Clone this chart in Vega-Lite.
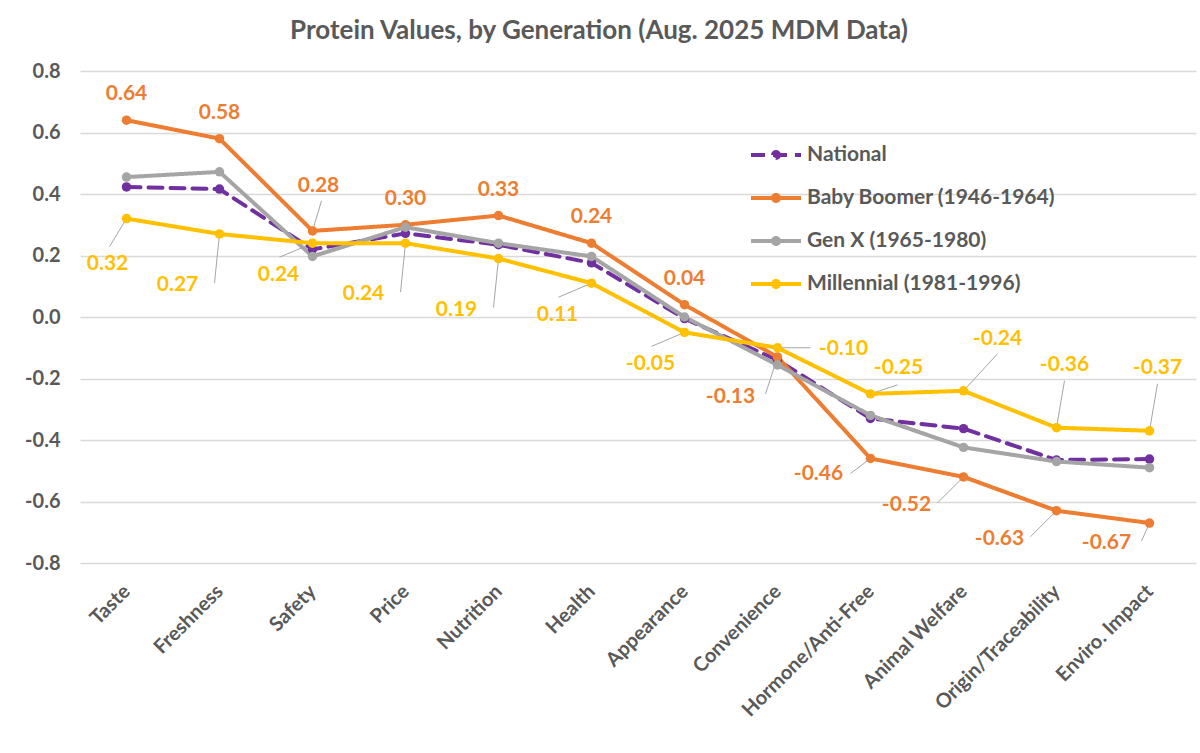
{
  "$schema": "https://vega.github.io/schema/vega-lite/v6.json",
  "width": 1116,
  "height": 492,
  "autosize": {"type": "none"},
  "padding": {"left": 80, "top": 71, "right": 4, "bottom": 190},
  "background": "white",
  "title": {
    "text": "Protein Values, by Generation (Aug. 2025 MDM Data)",
    "font": "Lato", "fontSize": 26, "fontWeight": "bold", "color": "#595959",
    "frame": "group", "anchor": "middle", "dx": -39, "offset": 28, "dy": 32, "baseline": "alphabetic"
  },
  "config": {
    "view": {"stroke": null},
    "locale": {"number": {"decimal": ".", "thousands": ",", "grouping": [3], "currency": ["$", ""], "minus": "-"}},
    "text": {"font": "Lato", "fontSize": 21, "fontWeight": "bold"}
  },
  "data": {
    "values": [
      {"cat": "Taste", "series": "National", "value": 0.423},
      {"cat": "Freshness", "series": "National", "value": 0.416},
      {"cat": "Safety", "series": "National", "value": 0.22},
      {"cat": "Price", "series": "National", "value": 0.272},
      {"cat": "Nutrition", "series": "National", "value": 0.235},
      {"cat": "Health", "series": "National", "value": 0.176},
      {"cat": "Appearance", "series": "National", "value": -0.005},
      {"cat": "Convenience", "series": "National", "value": -0.14},
      {"cat": "Hormone/Anti-Free", "series": "National", "value": -0.33},
      {"cat": "Animal Welfare", "series": "National", "value": -0.363},
      {"cat": "Origin/Traceability", "series": "National", "value": -0.465},
      {"cat": "Enviro. Impact", "series": "National", "value": -0.462},
      {"cat": "Taste", "series": "Baby Boomer (1946-1964)", "value": 0.64},
      {"cat": "Freshness", "series": "Baby Boomer (1946-1964)", "value": 0.58},
      {"cat": "Safety", "series": "Baby Boomer (1946-1964)", "value": 0.28},
      {"cat": "Price", "series": "Baby Boomer (1946-1964)", "value": 0.30},
      {"cat": "Nutrition", "series": "Baby Boomer (1946-1964)", "value": 0.33},
      {"cat": "Health", "series": "Baby Boomer (1946-1964)", "value": 0.24},
      {"cat": "Appearance", "series": "Baby Boomer (1946-1964)", "value": 0.04},
      {"cat": "Convenience", "series": "Baby Boomer (1946-1964)", "value": -0.13},
      {"cat": "Hormone/Anti-Free", "series": "Baby Boomer (1946-1964)", "value": -0.46},
      {"cat": "Animal Welfare", "series": "Baby Boomer (1946-1964)", "value": -0.52},
      {"cat": "Origin/Traceability", "series": "Baby Boomer (1946-1964)", "value": -0.63},
      {"cat": "Enviro. Impact", "series": "Baby Boomer (1946-1964)", "value": -0.67},
      {"cat": "Taste", "series": "Gen X (1965-1980)", "value": 0.455},
      {"cat": "Freshness", "series": "Gen X (1965-1980)", "value": 0.472},
      {"cat": "Safety", "series": "Gen X (1965-1980)", "value": 0.197},
      {"cat": "Price", "series": "Gen X (1965-1980)", "value": 0.292},
      {"cat": "Nutrition", "series": "Gen X (1965-1980)", "value": 0.24},
      {"cat": "Health", "series": "Gen X (1965-1980)", "value": 0.197},
      {"cat": "Appearance", "series": "Gen X (1965-1980)", "value": 0.0},
      {"cat": "Convenience", "series": "Gen X (1965-1980)", "value": -0.156},
      {"cat": "Hormone/Anti-Free", "series": "Gen X (1965-1980)", "value": -0.32},
      {"cat": "Animal Welfare", "series": "Gen X (1965-1980)", "value": -0.424},
      {"cat": "Origin/Traceability", "series": "Gen X (1965-1980)", "value": -0.47},
      {"cat": "Enviro. Impact", "series": "Gen X (1965-1980)", "value": -0.49},
      {"cat": "Taste", "series": "Millennial (1981-1996)", "value": 0.32},
      {"cat": "Freshness", "series": "Millennial (1981-1996)", "value": 0.27},
      {"cat": "Safety", "series": "Millennial (1981-1996)", "value": 0.24},
      {"cat": "Price", "series": "Millennial (1981-1996)", "value": 0.24},
      {"cat": "Nutrition", "series": "Millennial (1981-1996)", "value": 0.19},
      {"cat": "Health", "series": "Millennial (1981-1996)", "value": 0.11},
      {"cat": "Appearance", "series": "Millennial (1981-1996)", "value": -0.05},
      {"cat": "Convenience", "series": "Millennial (1981-1996)", "value": -0.10},
      {"cat": "Hormone/Anti-Free", "series": "Millennial (1981-1996)", "value": -0.25},
      {"cat": "Animal Welfare", "series": "Millennial (1981-1996)", "value": -0.24},
      {"cat": "Origin/Traceability", "series": "Millennial (1981-1996)", "value": -0.36},
      {"cat": "Enviro. Impact", "series": "Millennial (1981-1996)", "value": -0.37}
    ]
  },
  "encoding": {
    "x": {
      "field": "cat", "type": "nominal",
      "sort": ["Taste", "Freshness", "Safety", "Price", "Nutrition", "Health", "Appearance", "Convenience", "Hormone/Anti-Free", "Animal Welfare", "Origin/Traceability", "Enviro. Impact"],
      "scale": {"type": "point", "padding": 0.5},
      "axis": {
        "title": null, "labelAngle": -45, "labelAlign": "right", "labelBaseline": "middle",
        "labelPadding": 25, "ticks": false, "domain": false, "grid": false,
        "labelFont": "Lato", "labelFontSize": 20, "labelFontWeight": "bold", "labelColor": "#595959", "labelLimit": 400
      }
    },
    "y": {
      "field": "value", "type": "quantitative",
      "scale": {"domain": [-0.8, 0.8], "nice": false, "zero": false},
      "axis": {
        "title": null, "values": [-0.8, -0.6, -0.4, -0.2, 0, 0.2, 0.4, 0.6, 0.8], "format": ".1f",
        "ticks": false, "domain": false, "grid": true, "gridColor": "#D9D9D9", "gridWidth": 1.3,
        "labelPadding": 20, "labelFont": "Lato", "labelFontSize": 20, "labelFontWeight": "bold", "labelColor": "#595959"
      }
    }
  },
  "layer": [
    {"transform": [{"filter": "test(/^Baby/, datum.series) && datum.cat == 'Safety'"}],
     "mark": {"type": "rule", "color": "#A5A5A5", "strokeWidth": 1, "x2Offset": 9, "y2Offset": -30},
     "encoding": {"x2": {"field": "cat"}, "y2": {"field": "value"}}},
    {"transform": [{"filter": "test(/^Baby/, datum.series) && datum.cat == 'Convenience'"}],
     "mark": {"type": "rule", "color": "#A5A5A5", "strokeWidth": 1, "x2Offset": -12, "y2Offset": 37},
     "encoding": {"x2": {"field": "cat"}, "y2": {"field": "value"}}},
    {"transform": [{"filter": "test(/^Baby/, datum.series) && datum.cat == 'Hormone/Anti-Free'"}],
     "mark": {"type": "rule", "color": "#A5A5A5", "strokeWidth": 1, "x2Offset": -20, "y2Offset": 15},
     "encoding": {"x2": {"field": "cat"}, "y2": {"field": "value"}}},
    {"transform": [{"filter": "test(/^Baby/, datum.series) && (datum.cat == 'Animal Welfare' || datum.cat == 'Origin/Traceability')"}],
     "mark": {"type": "rule", "color": "#A5A5A5", "strokeWidth": 1, "x2Offset": -26, "y2Offset": 26},
     "encoding": {"x2": {"field": "cat"}, "y2": {"field": "value"}}},
    {"transform": [{"filter": "test(/^Baby/, datum.series) && datum.cat == 'Enviro. Impact'"}],
     "mark": {"type": "rule", "color": "#A5A5A5", "strokeWidth": 1, "x2Offset": -8, "y2Offset": 18},
     "encoding": {"x2": {"field": "cat"}, "y2": {"field": "value"}}},
    {"transform": [{"filter": "test(/^Mill/, datum.series) && datum.cat == 'Taste'"}],
     "mark": {"type": "rule", "color": "#A5A5A5", "strokeWidth": 1, "x2Offset": -17, "y2Offset": 28},
     "encoding": {"x2": {"field": "cat"}, "y2": {"field": "value"}}},
    {"transform": [{"filter": "test(/^Mill/, datum.series) && indexof(['Freshness','Price','Nutrition'], datum.cat) >= 0"}],
     "mark": {"type": "rule", "color": "#A5A5A5", "strokeWidth": 1, "x2Offset": -5, "y2Offset": 49},
     "encoding": {"x2": {"field": "cat"}, "y2": {"field": "value"}}},
    {"transform": [{"filter": "test(/^Mill/, datum.series) && indexof(['Safety','Health','Appearance'], datum.cat) >= 0"}],
     "mark": {"type": "rule", "color": "#A5A5A5", "strokeWidth": 1, "x2Offset": -33, "y2Offset": 14},
     "encoding": {"x2": {"field": "cat"}, "y2": {"field": "value"}}},
    {"transform": [{"filter": "test(/^Mill/, datum.series) && datum.cat == 'Convenience'"}],
     "mark": {"type": "rule", "color": "#A5A5A5", "strokeWidth": 1, "x2Offset": 33, "y2Offset": 0},
     "encoding": {"x2": {"field": "cat"}, "y2": {"field": "value"}}},
    {"transform": [{"filter": "test(/^Mill/, datum.series) && datum.cat == 'Hormone/Anti-Free'"}],
     "mark": {"type": "rule", "color": "#A5A5A5", "strokeWidth": 1, "x2Offset": 27, "y2Offset": -9},
     "encoding": {"x2": {"field": "cat"}, "y2": {"field": "value"}}},
    {"transform": [{"filter": "test(/^Mill/, datum.series) && datum.cat == 'Animal Welfare'"}],
     "mark": {"type": "rule", "color": "#A5A5A5", "strokeWidth": 1, "x2Offset": 34, "y2Offset": -37},
     "encoding": {"x2": {"field": "cat"}, "y2": {"field": "value"}}},
    {"transform": [{"filter": "test(/^Mill/, datum.series) && (datum.cat == 'Origin/Traceability' || datum.cat == 'Enviro. Impact')"}],
     "mark": {"type": "rule", "color": "#A5A5A5", "strokeWidth": 1, "x2Offset": 8, "y2Offset": -47},
     "encoding": {"x2": {"field": "cat"}, "y2": {"field": "value"}}},
    {
      "mark": {"type": "line", "strokeWidth": 4, "strokeCap": "round", "strokeJoin": "round"},
      "encoding": {
        "color": {
          "field": "series", "type": "nominal",
          "scale": {"domain": ["National", "Baby Boomer (1946-1964)", "Gen X (1965-1980)", "Millennial (1981-1996)"], "range": ["#7030A0", "#ED7D31", "#A5A5A5", "#FFC000"]},
          "legend": {"orient": "none", "legendX": 669, "legendY": 57, "title": null, "padding": 0,
            "symbolType": "M-1,0H1M-0.12,0A0.12,0.12,0,1,1,0.12,0A0.12,0.12,0,1,1,-0.12,0",
            "symbolSize": 2500, "symbolStrokeWidth": 4, "rowPadding": 5, "labelOffset": 4,
            "labelFont": "Lato", "labelFontSize": 21, "labelFontWeight": "bold", "labelColor": "#595959", "labelLimit": 400}
        },
        "strokeDash": {
          "field": "series", "type": "nominal",
          "scale": {"domain": ["National", "Baby Boomer (1946-1964)", "Gen X (1965-1980)", "Millennial (1981-1996)"], "range": [[14, 8], [1, 0], [1, 0], [1, 0]]},
          "legend": {"orient": "none", "legendX": 669, "legendY": 57, "title": null, "padding": 0,
            "symbolType": "M-1,0H1M-0.12,0A0.12,0.12,0,1,1,0.12,0A0.12,0.12,0,1,1,-0.12,0",
            "symbolSize": 2500, "symbolStrokeWidth": 4, "rowPadding": 5, "labelOffset": 4,
            "labelFont": "Lato", "labelFontSize": 21, "labelFontWeight": "bold", "labelColor": "#595959", "labelLimit": 400}
        }
      }
    },
    {
      "mark": {"type": "point", "filled": true, "size": 90, "opacity": 1},
      "encoding": {
        "fill": {
          "field": "series", "type": "nominal",
          "scale": {"domain": ["National", "Baby Boomer (1946-1964)", "Gen X (1965-1980)", "Millennial (1981-1996)"], "range": ["#7030A0", "#ED7D31", "#A5A5A5", "#FFC000"]},
          "legend": null
        }
      }
    },
    {"transform": [{"filter": "test(/^Baby/, datum.series) && indexof(['Taste','Freshness','Price','Nutrition','Health','Appearance'], datum.cat) >= 0"}],
     "mark": {"type": "text", "color": "#ED7D31", "dy": -26},
     "encoding": {"text": {"field": "value", "type": "quantitative", "format": ".2f"}}},
    {"transform": [{"filter": "test(/^Baby/, datum.series) && datum.cat == 'Safety'"}],
     "mark": {"type": "text", "color": "#ED7D31", "dx": 6, "dy": -45},
     "encoding": {"text": {"field": "value", "type": "quantitative", "format": ".2f"}}},
    {"transform": [{"filter": "test(/^Baby/, datum.series) && datum.cat == 'Convenience'"}],
     "mark": {"type": "text", "color": "#ED7D31", "dx": -47, "dy": 40},
     "encoding": {"text": {"field": "value", "type": "quantitative", "format": ".2f"}}},
    {"transform": [{"filter": "test(/^Baby/, datum.series) && datum.cat == 'Hormone/Anti-Free'"}],
     "mark": {"type": "text", "color": "#ED7D31", "dx": -52, "dy": 16},
     "encoding": {"text": {"field": "value", "type": "quantitative", "format": ".2f"}}},
    {"transform": [{"filter": "test(/^Baby/, datum.series) && (datum.cat == 'Animal Welfare' || datum.cat == 'Origin/Traceability')"}],
     "mark": {"type": "text", "color": "#ED7D31", "dx": -57, "dy": 28},
     "encoding": {"text": {"field": "value", "type": "quantitative", "format": ".2f"}}},
    {"transform": [{"filter": "test(/^Baby/, datum.series) && datum.cat == 'Enviro. Impact'"}],
     "mark": {"type": "text", "color": "#ED7D31", "dx": -43, "dy": 20},
     "encoding": {"text": {"field": "value", "type": "quantitative", "format": ".2f"}}},
    {"transform": [{"filter": "test(/^Mill/, datum.series) && datum.cat == 'Taste'"}],
     "mark": {"type": "text", "color": "#FFC000", "dx": -19, "dy": 45},
     "encoding": {"text": {"field": "value", "type": "quantitative", "format": ".2f"}}},
    {"transform": [{"filter": "test(/^Mill/, datum.series) && indexof(['Freshness','Price','Nutrition'], datum.cat) >= 0"}],
     "mark": {"type": "text", "color": "#FFC000", "dx": -42, "dy": 51},
     "encoding": {"text": {"field": "value", "type": "quantitative", "format": ".2f"}}},
    {"transform": [{"filter": "test(/^Mill/, datum.series) && indexof(['Safety','Health','Appearance'], datum.cat) >= 0"}],
     "mark": {"type": "text", "color": "#FFC000", "dx": -34, "dy": 32},
     "encoding": {"text": {"field": "value", "type": "quantitative", "format": ".2f"}}},
    {"transform": [{"filter": "test(/^Mill/, datum.series) && datum.cat == 'Convenience'"}],
     "mark": {"type": "text", "color": "#FFC000", "dx": 66, "dy": 1},
     "encoding": {"text": {"field": "value", "type": "quantitative", "format": ".2f"}}},
    {"transform": [{"filter": "test(/^Mill/, datum.series) && datum.cat == 'Hormone/Anti-Free'"}],
     "mark": {"type": "text", "color": "#FFC000", "dx": 28, "dy": -26},
     "encoding": {"text": {"field": "value", "type": "quantitative", "format": ".2f"}}},
    {"transform": [{"filter": "test(/^Mill/, datum.series) && datum.cat == 'Animal Welfare'"}],
     "mark": {"type": "text", "color": "#FFC000", "dx": 34, "dy": -52},
     "encoding": {"text": {"field": "value", "type": "quantitative", "format": ".2f"}}},
    {"transform": [{"filter": "test(/^Mill/, datum.series) && (datum.cat == 'Origin/Traceability' || datum.cat == 'Enviro. Impact')"}],
     "mark": {"type": "text", "color": "#FFC000", "dx": 8, "dy": -63},
     "encoding": {"text": {"field": "value", "type": "quantitative", "format": ".2f"}}}
  ]
}
